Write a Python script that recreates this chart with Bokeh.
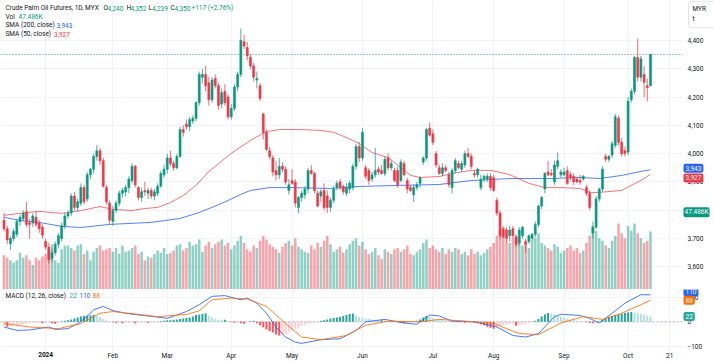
from bokeh.plotting import figure
from bokeh.layouts import column
from bokeh.models import (Range1d, FixedTicker, NumeralTickFormatter, Span, Label,
                          LinearAxis, BoxAnnotation)
from bokeh.embed import file_html
from bokeh.resources import INLINE

# ---------------- data ----------------
opens = [3765,3735,3682,3700,3715,3760,3770,3795,3755,3755,
 3775,3755,3740,3690,3670,3630,3650,3680,3700,3745,
 3780,3790,3850,3810,3825,3880,3840,3925,3945,3990,
 4010,3975,3880,3825,3760,3800,3825,3860,3865,3880,
 3905,3955,3880,3845,3870,3860,3870,3850,3860,3885,
 3925,3945,3985,3965,3950,3990,4085,4105,4095,4115,
 4125,4180,4270,4280,4250,4190,4265,4240,4175,4220,
 4200,4130,4160,4235,4280,4395,4375,4340,4310,4260,
 4240,4140,4075,4010,3985,3940,3925,3955,3945,3870,
 3905,3900,3810,3845,3855,3875,3940,3930,3860,3850,
 3870,3850,3810,3835,3880,3900,3885,3860,3875,3880,
 3955,4025,3985,3950,3940,3910,3925,3945,3940,3930,
 3985,3950,3940,3940,3905,3965,3905,3880,3855,3880,
 3895,3970,3985,4090,4070,4000,3950,3930,3950,3925,
 3880,3940,3965,3945,3960,4000,3990,3930,3925,3880,
 3910,3910,3920,3915,3835,3790,3735,3730,3710,3735,
 3705,3685,3710,3690,3690,3700,3715,3750,3815,3875,
 3935,3930,3900,3955,3925,3925,3940,3925,3920,3910,
 3905,3910,3880,3860,3720,3740,3840,3875,3990,3980,
 3995,4030,4125,4040,4010,4005,4190,4220,4340,4270,
 4280,4240,4240]
highs = [3790,3745,3710,3735,3770,3785,3800,3830,3770,3790,
 3795,3765,3750,3700,3685,3665,3690,3720,3755,3790,
 3800,3860,3865,3840,3895,3890,3935,3950,4000,4030,
 4020,3985,3890,3835,3815,3835,3870,3880,3890,3920,
 3965,3960,3885,3880,3900,3880,3880,3875,3895,3940,
 3960,4000,4010,3975,4000,4095,4100,4120,4130,4135,
 4185,4290,4300,4310,4270,4270,4280,4250,4230,4245,
 4210,4175,4245,4290,4442,4420,4395,4350,4320,4290,
 4250,4145,4085,4025,3995,3975,3985,3970,3955,3910,
 3945,3910,3850,3870,3885,3950,3960,3935,3870,3875,
 3895,3870,3845,3885,3905,3910,3890,3895,3905,3965,
 4035,4040,4090,3960,3950,3935,4020,3955,3960,3990,
 4000,3975,3950,3955,3980,3975,3915,3890,3890,3900,
 3920,3990,4090,4110,4085,4010,3960,3965,3960,3935,
 3950,3985,3975,3975,4010,4020,4000,3940,3950,3925,
 3925,3930,3930,3925,3845,3800,3745,3740,3745,3745,
 3715,3740,3745,3700,3715,3720,3760,3820,3850,3935,
 3975,3945,3975,4004,3945,3950,3955,3935,3930,3915,
 3925,3925,3890,3870,3760,3850,3880,3955,4000,3995,
 4045,4140,4135,4055,4025,4200,4230,4345,4407,4345,
 4310,4265,4352]
lows = [3725,3680,3660,3690,3705,3745,3760,3740,3700,3740,
 3740,3720,3700,3660,3610,3615,3640,3665,3690,3735,
 3770,3780,3800,3795,3815,3820,3830,3910,3930,3975,
 3960,3880,3820,3750,3745,3790,3815,3845,3850,3860,
 3895,3880,3835,3830,3850,3840,3840,3835,3850,3880,
 3915,3930,3955,3940,3945,3985,4060,4085,4080,4105,
 4115,4170,4250,4220,4170,4180,4230,4155,4160,4170,
 4120,4120,4150,4220,4270,4370,4330,4300,4255,4230,
 4185,4050,4010,3980,3920,3905,3910,3935,3890,3855,
 3890,3810,3790,3830,3840,3860,3925,3860,3810,3830,
 3800,3790,3795,3825,3870,3870,3855,3850,3860,3870,
 3945,3970,3975,3910,3890,3900,3915,3925,3925,3920,
 3940,3940,3900,3880,3900,3920,3860,3865,3830,3870,
 3880,3960,3975,4060,4030,3950,3925,3920,3935,3880,
 3860,3930,3945,3935,3950,3985,3945,3915,3915,3870,
 3900,3900,3870,3865,3780,3700,3700,3690,3690,3700,
 3670,3675,3700,3650,3680,3690,3705,3740,3805,3860,
 3920,3920,3890,3945,3915,3920,3890,3905,3890,3895,
 3890,3905,3850,3800,3700,3735,3830,3865,3970,3970,
 3985,4020,4030,3990,3990,3995,4180,4210,4255,4255,
 4200,4185,4239]
closes = [3735,3695,3700,3725,3760,3775,3790,3750,3750,3780,
 3750,3735,3712,3670,3625,3650,3680,3710,3745,3780,
 3790,3850,3810,3830,3880,3830,3925,3945,3990,4010,
 3975,3885,3830,3765,3800,3825,3860,3870,3880,3910,
 3955,3890,3845,3865,3865,3870,3850,3865,3885,3930,
 3945,3985,3965,3950,3990,4085,4075,4095,4120,4125,
 4180,4280,4280,4240,4190,4260,4240,4170,4215,4180,
 4130,4160,4235,4280,4400,4380,4345,4310,4270,4265,
 4195,4075,4015,3990,3935,3925,3955,3945,3900,3890,
 3895,3825,3845,3860,3875,3940,3930,3870,3815,3865,
 3810,3810,3835,3875,3895,3880,3865,3880,3895,3955,
 4025,3985,4075,3920,3905,3925,3940,3935,3930,3980,
 3950,3965,3905,3890,3970,3925,3875,3870,3880,3890,
 3915,3985,4085,4065,4040,3960,3930,3950,3940,3890,
 3940,3975,3950,3965,4000,3990,3955,3925,3945,3910,
 3920,3920,3880,3870,3790,3710,3705,3700,3730,3710,
 3680,3730,3740,3680,3710,3715,3750,3815,3845,3930,
 3925,3925,3960,3975,3935,3935,3895,3915,3900,3900,
 3900,3920,3860,3810,3740,3840,3875,3945,3980,3990,
 4035,4130,4040,4000,4000,4185,4220,4340,4270,4335,
 4252,4233,4350]
volumes_k = [28,26,24,22,24,30,26,28,24,20,
 26,24,27,29,32,37,24,22,33,36,
 36,34,32,36,37,29,32,24,31,34,
 36,32,33,34,31,34,29,36,31,32,
 34,36,29,31,24,27,26,29,32,30,
 34,29,30,32,36,37,32,34,39,36,
 37,41,31,36,39,34,37,39,41,36,
 38,33,36,40,44,38,33,31,36,34,
 40,44,41,37,35,33,30,35,38,40,
 36,42,35,33,31,30,36,33,38,35,
 40,44,37,31,33,35,30,33,37,40,
 42,36,39,33,29,31,34,28,25,33,
 31,29,33,34,31,33,36,29,28,31,
 33,38,41,34,36,33,31,34,29,33,
 31,34,33,29,31,28,33,29,31,28,
 30,33,35,38,44,48,42,40,38,42,
 44,40,36,38,34,40,42,46,38,36,
 34,32,37,35,30,32,34,36,32,34,
 30,32,38,44,52,48,42,40,36,34,
 40,44,54,46,42,52,48,54,46,42,
 38,40,47.486]

sma50_idx = [0,7,11,18,24,30,34,40,44,48,52,56,60,64,71,77,82,86,93,99,103,107,111,
             115,120,124,127,130,136,140,146,152,158,164,169,174,180,183,186,193,196,199,202]
sma50_val = [3782,3792,3796,3789,3799,3813,3803,3799,3806,3810,3827,3852,3888,3937,4001,4047,
             4078,4085,4085,4082,4075,4057,4036,4004,3986,3951,3923,3916,3919,3930,3941,3941,
             3926,3895,3880,3880,3877,3863,3863,3870,3888,3905,3927]
sma200_idx = [0,5,11,18,24,33,46,55,61,68,74,77,83,90,102,111,124,136,146,158,171,180,186,193,199,202]
sma200_val = [3775,3764,3757,3743,3739,3750,3757,3771,3792,3824,3856,3870,3880,3880,3877,3884,
              3888,3891,3905,3912,3912,3916,3912,3923,3937,3943]

macd_idx = [0,4,8,14,16,20,23,26,28,31,34,38,42,47,51,54,57,61,65,69,74,76,79,82,85,88,91,93,
            99,105,110,113,119,125,129,133,136,140,147,154,159,163,167,172,174,180,183,186,190,194,199,202]
macd_val = [-21,-35,-33,-21,-31,-28,-7,21,49,63,46,35,28,21,14,28,42,70,104,107,90,97,76,35,-21,
            -62,-83,-88,-73,-69,-35,0,10,-5,-10,28,24,3,0,-21,-56,-62,-48,21,31,26,14,-5,35,76,111,110]
signal_idx = [0,8,17,24,30,34,41,48,57,61,65,71,76,82,88,93,99,107,113,120,130,136,144,153,161,
              167,174,181,187,193,199,202]
signal_val = [-7,-21,-28,-7,35,42,32,21,30,45,90,97,93,63,-7,-62,-73,-56,-14,3,0,10,3,-7,-48,
              -52,-5,21,10,35,70,88]
hist = [-15,-20,-18,-14,-12,-10,-10,-8,-6,-6,
 -4,-4,-6,-4,-2,-6,-8,-4,2,4,
 6,10,14,18,22,24,26,26,28,24,
 20,12,6,2,-2,-4,-4,-6,-6,-4,
 -4,-6,-4,-4,-2,-4,-4,-2,-2,2,
 4,6,6,8,10,12,14,16,18,22,
 28,30,32,34,24,18,12,10,8,8,
 4,-2,-4,-4,-6,-8,-2,2,4,-6,
 -14,-22,-30,-38,-44,-52,-56,-54,-50,-44,
 -36,-30,-24,-18,-12,-8,-6,-4,0,4,
 6,10,14,16,18,20,24,28,32,34,
 26,20,16,14,12,10,8,6,6,4,
 2,2,0,-2,-4,-6,-6,-4,-2,4,
 10,18,24,20,14,10,8,6,4,2,
 2,0,-2,-2,-4,-4,-2,-4,-6,-10,
 -14,-20,-24,-28,-22,-18,-14,-12,-10,-8,
 -16,-14,-12,-10,-6,-2,4,12,22,30,
 36,34,30,26,22,18,14,10,6,4,
 2,0,-2,-4,-6,-4,2,8,14,20,
 24,28,30,34,36,38,40,38,36,32,
 28,25,22]

tick_idx = [13, 34, 51, 71, 90, 112, 134, 153, 175, 195, 208]
tick_labels = ["2024", "Feb", "Mar", "Apr", "May", "Jun", "Jul", "Aug", "Sep", "Oct", "21"]
price_ticks = [3600, 3700, 3800, 3900, 4000, 4100, 4200, 4300, 4400]
macd_ticks = [-100, 0, 100]

# ---------------- styling / layout ----------------
UP, DOWN = "#089981", "#f23645"
BLUE, ORANGE = "#2962ff", "#ff6d00"
TXT = "#131722"
FONT = "Roboto"
FS = "6.5px"
W, H1, H2 = 714, 289, 72
SCALE_X = 212          # bar-index position where the price scale begins
PANE_BOTTOM = -105     # MACD value at the bottom edge of the MACD pane
FW = 682               # pixel x where the price scale begins

n = len(closes)
idx = list(range(n))
cols = [UP if c >= o else DOWN for o, c in zip(opens, closes)]
btop = [max(o, c) for o, c in zip(opens, closes)]
bbot = [min(o, c) for o, c in zip(opens, closes)]
hcols = []
for i, h in enumerate(hist):
    prev = hist[i - 1] if i else h
    if h >= 0:
        hcols.append("#26a69a" if h >= prev else "#b2dfdb")
    else:
        hcols.append("#ff5252" if h < prev else "#ffcdd2")

xr = Range1d(-1.1, 222)


def lab(fig, x, y, text, color=TXT, bold=False, bg=None, xu="screen", yu="screen",
        align="left", border=None, pad=None):
    kw = {}
    if bg:
        kw.update(background_fill_color=bg, padding=pad if pad is not None else 2, border_radius=2)
    if border:
        kw.update(border_line_color=border, padding=pad if pad is not None else 3, border_radius=3)
    fig.add_layout(Label(x=x, y=y, x_units=xu, y_units=yu, text=text, text_color=color,
                         text_font=FONT, text_font_size=FS,
                         text_font_style="bold" if bold else "normal",
                         text_baseline="middle", text_align=align, **kw))


def style_axis(ax):
    ax.axis_line_color = None
    ax.major_tick_line_color = None
    ax.minor_tick_line_color = None
    ax.major_tick_out = 0
    ax.major_tick_in = 0
    ax.minor_tick_out = 0
    ax.minor_tick_in = 0
    ax.major_label_text_font = FONT
    ax.major_label_text_font_size = FS
    ax.major_label_text_color = TXT


def setup(fig, ticks, fmt=None):
    ax = fig.yaxis[0]
    ax.ticker = FixedTicker(ticks=ticks)
    if fmt:
        ax.formatter = NumeralTickFormatter(format=fmt)
    style_axis(ax)
    ax.major_label_standoff = 5
    ax.fixed_location = SCALE_X
    fig.ygrid.ticker = FixedTicker(ticks=ticks)
    fig.ygrid.grid_line_color = "#f0f3fa"
    fig.xgrid.ticker = FixedTicker(ticks=tick_idx)
    fig.xgrid.grid_line_color = "#f0f3fa"


def scale_backdrop(fig):
    # white price-scale strip, beneath the marks and the axis labels
    fig.add_layout(BoxAnnotation(left=SCALE_X, fill_color="white", fill_alpha=1.0,
                                 line_color=None, level="underlay"))


# ---------------- main pane ----------------
p = figure(width=W, height=H1, x_range=xr, y_range=Range1d(3520, 4541),
           output_backend="svg", toolbar_location=None, y_axis_location="right",
           min_border_left=0, min_border_right=0, min_border_top=0, min_border_bottom=0,
           outline_line_color=None, background_fill_color="white", border_fill_color="white")
p.xaxis.visible = False
setup(p, price_ticks, "0,0")
p.add_layout(Span(location=closes[-1], dimension="width", line_color=UP,
                  line_dash="1 2", line_width=1, line_alpha=0.9, level="underlay"))
scale_backdrop(p)
p.extra_y_ranges = {"vol": Range1d(0, 236.6)}
p.vbar(x=idx, top=volumes_k, bottom=0, width=0.8, y_range_name="vol",
       fill_color=cols, fill_alpha=0.45, line_color=None)
p.line(sma200_idx, sma200_val, line_color=BLUE, line_width=1, line_alpha=0.8)
p.line(sma50_idx, sma50_val, line_color=DOWN, line_width=1, line_alpha=0.7)
p.segment(idx, lows, idx, highs, line_color=cols, line_width=1, line_alpha=0.75)
p.vbar(x=idx, top=btop, bottom=bbot, width=0.62, fill_color=cols, line_color=cols, line_width=0.6)

# legend lines (screen y measured up from the frame bottom)
y1, y2, y3, y4 = H1 - 7.5, H1 - 16, H1 - 24.8, H1 - 33.5
lab(p, 5, y1, "Crude Palm Oil Futures, 1D, MYX")
chg = closes[-1] - closes[-2]
pct = chg / closes[-2] * 100
for xl, letter, xv, val in [(103, "O", 107, opens[-1]), (126, "H", 130, highs[-1]),
                            (148, "L", 151.5, lows[-1]), (170, "C", 174, closes[-1])]:
    lab(p, xl, y1, letter)
    lab(p, xv, y1, f"{val:,}", color=UP)
lab(p, 191, y1, f"+{chg} (+{pct:.2f}%)", color=UP)
lab(p, 5, y2, "Vol")
lab(p, 18, y2, f"{volumes_k[-1]:.3f}K", color=UP)
lab(p, 5, y3, "SMA (200, close)")
lab(p, 56, y3, f"{sma200_val[-1]:,}", color=BLUE)
lab(p, 5, y4, "SMA (50, close)")
lab(p, 53.5, y4, f"{sma50_val[-1]:,}", color=DOWN)

# value boxes on the price scale
lab(p, FW + 1, 3948, f"{sma200_val[-1]:,}", color="white", bg=BLUE, yu="data")
lab(p, FW + 1, 3914, f"{sma50_val[-1]:,}", color="white", bg=DOWN, yu="data")
lab(p, FW + 1, H1 - 211.7, f"{volumes_k[-1]:.3f}K", color="white", bg=UP, pad=1)
lab(p, FW + 6, H1 - 14, "MYR\nt", align="left", border="#e0e3eb", pad=(4, 10, 4, 5))

# ---------------- MACD pane (+ time scale) ----------------
q = figure(width=W, height=H2, x_range=xr, y_range=Range1d(-162, 132),
           output_backend="svg", toolbar_location=None, y_axis_location="right",
           min_border_left=0, min_border_right=0, min_border_top=0, min_border_bottom=0,
           outline_line_color=None, background_fill_color="white", border_fill_color="white")
setup(q, macd_ticks)
q.add_layout(Span(location=0, dimension="width", line_color="#b2b5be", line_dash="2 2",
                  line_width=1, level="underlay"))
scale_backdrop(q)
q.vbar(x=idx, top=hist, bottom=0, width=0.62, fill_color=hcols, line_color=None)
q.line(macd_idx, macd_val, line_color=BLUE, line_width=1, line_alpha=0.85)
q.line(signal_idx, signal_val, line_color=ORANGE, line_width=1, line_alpha=0.85)

xa = q.xaxis[0]
xa.ticker = FixedTicker(ticks=tick_idx)
xa.major_label_overrides = {t: ("" if i == 0 else s) for i, (t, s) in enumerate(zip(tick_idx, tick_labels))}
style_axis(xa)
xa.major_label_standoff = 4
xa.fixed_location = PANE_BOTTOM

xb = LinearAxis(ticker=FixedTicker(ticks=[tick_idx[0]]),
                major_label_overrides={tick_idx[0]: tick_labels[0]},
                fixed_location=PANE_BOTTOM)
style_axis(xb)
xb.major_label_standoff = 4
xb.major_label_text_font_style = "bold"
q.add_layout(xb, "below")

ym = H2 - 6
lab(q, 5, ym, "MACD (12, 26, close)")
lab(q, 69, ym, f"{hist[-1]}", color="#26a69a")
lab(q, 79, ym, f"{macd_val[-1]}", color=BLUE)
lab(q, 92, ym, f"{signal_val[-1]}", color=ORANGE)

lab(q, FW + 1, 122, f"{macd_val[-1]}", color="white", bg=BLUE, yu="data")
lab(q, FW + 1, 88, f"{signal_val[-1]}", color="white", bg=ORANGE, yu="data")
lab(q, FW + 1, hist[-1], f"{hist[-1]}", color="white", bg="#26a69a", yu="data")

layout = column(p, q, spacing=0)
open("out.html", "w").write(file_html(layout, INLINE))
